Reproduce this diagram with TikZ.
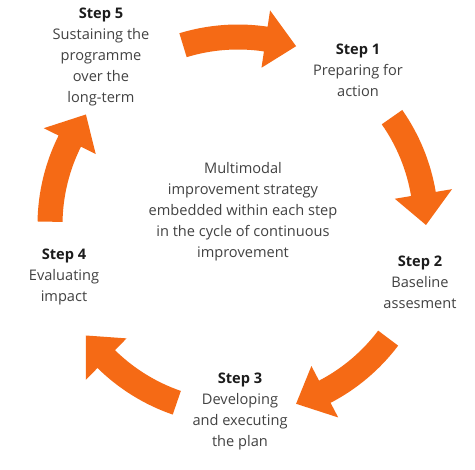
\documentclass[tikz,border=0pt]{standalone}
\usepackage{fontspec}
\setmainfont{Open Sans}
\definecolor{cycleorange}{RGB}{245,106,21}
\definecolor{bodygrey}{RGB}{66,66,66}
\definecolor{headblack}{RGB}{28,28,28}
\begin{document}
\begin{tikzpicture}[x=1pt,y=1pt,
  steptext/.style={align=center, text=bodygrey, inner sep=0pt,
    font=\fontsize{14.6}{21}\selectfont}]
\useasboundingbox (0,0) rectangle (475,470);
\fill[white] (0,0) rectangle (475,470);
% five curved block arrows running clockwise round the cycle
\foreach \tip in {72,0,-72,-144,-216} {
  \pgfmathsetmacro\tail{\tip+35}
  \pgfmathsetmacro\base{\tip+9.5}
  \fill[cycleorange, shift={(238,245)}]
    (\tail:200.5) arc[start angle=\tail, end angle=\base, radius=200.5]
    -- (\base:217) -- (\tip:188) -- (\base:159) -- (\base:175.5)
    arc[start angle=\base, end angle=\tail, radius=175.5] -- cycle;
}
\newcommand{\stepname}[1]{{\color{headblack}\bfseries #1}}
\node[steptext] (s5) at (101,413.5) {\stepname{Step 5}\\Sustaining the\\programme\\over the\\long-term};
\node[steptext] (s1) at (358,400) {\stepname{Step 1}\\Preparing for\\action};
\node[steptext] (s2) at (420,188) {\stepname{Step 2}\\Baseline\\assesment};
\node[steptext] (s3) at (240,58.5) {\stepname{Step 3}\\Developing\\and executing\\the plan};
\node[steptext] (s4) at (64,193) {\stepname{Step 4}\\Evaluating\\impact};
\node[steptext] (core) at (243,258) {Multimodal\\improvement strategy\\embedded within each step\\in the cycle of continuous\\improvement};
\end{tikzpicture}
\end{document}
